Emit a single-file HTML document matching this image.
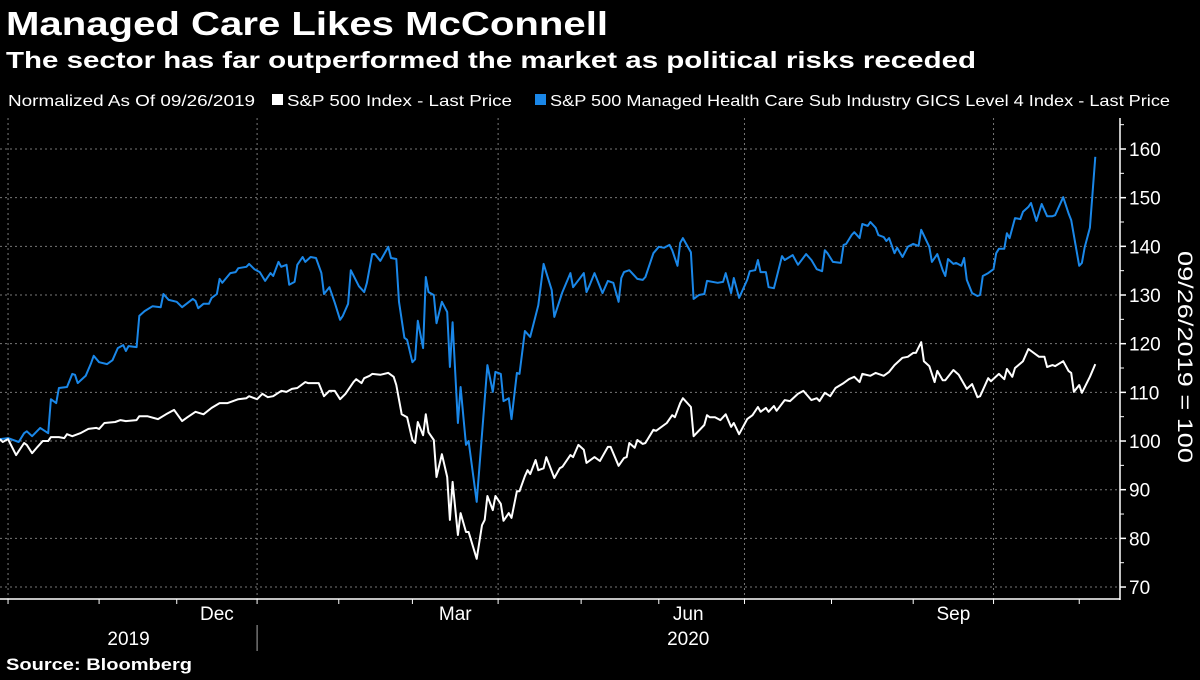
<!DOCTYPE html>
<html><head><meta charset="utf-8"><style>
body{margin:0;background:#000;width:1200px;height:675px;overflow:hidden;font-family:"Liberation Sans",sans-serif;color:#fff}
</style></head><body>
<svg width="1200" height="675" xmlns="http://www.w3.org/2000/svg" id="svg">
<text x="6" y="35" font-size="33" font-weight="bold" fill="#fff" textLength="602" lengthAdjust="spacingAndGlyphs">Managed Care Likes McConnell</text>
<text x="6" y="68" font-size="23" font-weight="bold" fill="#fff" textLength="970" lengthAdjust="spacingAndGlyphs">The sector has far outperformed the market as political risks receded</text>
<g font-size="16" fill="#fff">
<text x="8" y="106" textLength="247" lengthAdjust="spacingAndGlyphs">Normalized As Of 09/26/2019</text>
<rect x="272" y="94" width="11" height="11" fill="#fff"/>
<text x="287" y="106" textLength="225" lengthAdjust="spacingAndGlyphs">S&amp;P 500 Index - Last Price</text>
<rect x="535" y="94" width="11" height="11" fill="#1a87e8"/>
<text x="550" y="106" textLength="620" lengthAdjust="spacingAndGlyphs">S&amp;P 500 Managed Health Care Sub Industry GICS Level 4 Index - Last Price</text>
</g>
<g id="grid"></g>
<g id="axes"></g>
<g id="series"></g>
<text transform="translate(1178,357) rotate(90)" text-anchor="middle" font-size="21" fill="#fff" textLength="212" lengthAdjust="spacingAndGlyphs">09/26/2019 = 100</text>
<text x="6" y="670" font-size="17" font-weight="bold" fill="#fff" textLength="186" lengthAdjust="spacingAndGlyphs">Source: Bloomberg</text>
</svg>
<script>
const yTicks=[70,80,90,100,110,120,130,140,150,160];
const monthTickDays=[3,37,66,96,126.5,154,186,217,246,278,310.5,341,371,403];
const gridDays=[3,96,186,278,371];
const monthLabels=["Dec","Mar","Jun","Sep"];
const monthLabelDays=[81,170,257,356];
const yearLabels=["2019","2020"];
const yearLabelDays=[48,257];
const spDays=[0,1,3,6,9,10,12,14,16,18,19,22,24,25,27,30,33,36,37,39,43,45,47,51,52,55,59,62,65,68,70,73,76,79,82,85,89,92,93,96,98,100,102,105,107,109,111,114,115,119,121,123,125,127,129,132,133,135,136,138,139,142,145,147,148,150,152,154,155,156,158,159,160,162,163,165,167,168,169,171,172,174,175,178,180,181,182,184,185,187,188,190,191,193,194,196,197,198,200,201,203,204,207,209,210,213,214,216,218,219,222,224,227,228,231,233,234,235,237,238,240,241,244,245,249,251,252,254,255,258,259,263,264,265,267,269,271,273,274,276,279,281,283,284,286,287,289,290,293,295,298,300,303,305,306,308,310,312,315,317,319,321,322,325,327,330,332,334,337,339,341,342,344,345,347,349,350,352,353,356,358,361,363,365,366,369,370,373,375,376,378,379,382,384,388,390,391,393,394,397,399,400,401,403,404,407,409];
const spValues=[100.4,99.8,100.4,97.1,99.6,99.2,97.5,98.8,100,100,100.8,100.8,100.6,101.4,101,101.6,102.5,102.7,102.5,103.7,103.9,104.3,104.1,104.3,105.1,105.1,104.5,105.5,106.4,104.1,104.9,106,105.5,106.8,107.8,107.8,108.6,108.8,109.2,108.6,109.7,109,109.2,110.3,110.1,110.7,110.9,112.1,111.9,111.9,109.2,110.3,110.3,108.6,109.7,112.1,112.7,111.9,112.9,113.4,113.8,113.6,114,113.2,111.5,105.5,104.9,100.2,99.6,103.9,101.2,105.5,101.8,100.2,92.6,97.3,92.6,83.8,91.6,80.7,85.2,81.3,81.3,75.8,82.7,83.8,88.7,85.8,88.7,87.1,83.6,85.2,84.2,89.7,89.7,92.8,94,93.2,96.1,94,94.4,96.7,92.4,94.4,94.7,97.1,96.7,99.2,98.2,95.5,96.7,95.9,98.8,98.8,94.9,96.5,96.7,99.6,98.6,100.2,99.4,99.6,102.3,102.1,103.7,105.3,104.9,107.8,108.8,107,101,103.3,105.3,104.9,104.9,104.3,105.5,102.9,103.7,101.4,104.5,105.3,107,106,106.8,106,107.2,106.2,108.4,108.2,109.7,110.3,108.4,108.8,108.2,109.9,109.2,110.9,111.9,112.7,113.2,112.1,113.8,113.4,114,113.4,114.2,115.6,117.1,117.3,118.1,118.1,120.3,116.4,115.4,112.1,114.4,112.5,112.5,114.6,113.6,110.7,111.7,109,109.2,112.9,112.3,113.8,112.7,114.8,113.2,115,116.4,118.9,117.3,117.3,115.2,115.6,115.4,116.4,114.4,114,110.1,111.5,109.9,113.2,115.8];
const mcDays=[0,3,7,9,10,12,15,18,19,21,22,25,27,28,29,32,34,35,37,40,42,44,46,47,48,51,52,54,57,60,61,63,66,68,72,73,74,76,78,79,81,82,83,86,88,89,92,93,95,97,99,101,102,104,105,107,108,110,111,113,114,116,118,120,121,123,125,127,128,130,131,134,136,137,139,140,142,145,146,148,149,151,152,154,155,156,158,159,160,162,163,165,167,168,169,171,172,174,175,178,182,184,185,187,188,190,191,193,194,196,198,201,203,206,207,210,213,214,218,219,220,222,225,227,229,231,232,233,235,238,240,241,244,246,248,250,251,253,254,255,258,259,261,263,264,268,270,271,273,274,276,279,280,282,283,284,286,287,289,292,293,296,298,301,303,305,307,308,309,311,314,315,316,318,319,321,322,324,325,327,328,330,331,332,334,335,337,339,341,343,344,347,348,350,352,353,354,356,357,359,360,361,363,365,366,367,369,371,372,373,375,376,377,379,381,382,384,385,387,389,391,393,394,397,399,400,403,404,405,407,409];
const mcValues=[100.4,100.6,99.8,101.6,102,101,102.7,101.6,108.6,107.8,110.9,111.1,113.8,113.6,111.9,113.4,116,117.5,116.2,115.8,116.6,119.1,119.7,118.5,119.5,119.3,125.7,126.7,127.7,127.5,130.2,129,128.6,127.5,129.2,128.8,127.3,128.2,128.2,129.4,130.2,133.3,132.5,134.5,134.7,135.5,135.8,136.4,135.3,134.7,132.9,134.5,133.9,136.8,135.8,136.2,132.1,132.7,136.2,137.8,136.8,137.8,137.6,134.5,130.2,131.6,128.4,124.9,125.7,128.2,135.1,131.8,130.6,132.5,138.4,138.4,137,139.9,137.6,137.4,128.6,121.2,120.8,116.2,116.8,124.7,119.1,133.7,130.6,130,124.2,128.6,126.5,115.2,124.4,103.7,111.1,99.2,100,87.5,115.6,110.1,114.2,113.8,108.2,108.8,104.5,114,113.8,122.6,121.4,127.9,136.4,131,125.5,130.6,134.5,131.6,134.5,130.6,131.8,134.5,130.4,132.9,132.5,128.6,133.5,134.7,135.1,133.3,133.1,133.7,138.6,139.9,139.7,140.3,139.2,136,140.7,141.7,138.8,129.2,130,130.2,132.9,132.5,132.7,134.5,130.4,133.5,129.4,133.1,134.9,135.1,137.2,134.7,134.7,131.6,131.4,138,137.2,138.2,136.2,138.4,137.2,135.3,134.9,139.2,138.6,136.8,136.6,140.3,140.5,142.3,142.9,141.7,144.6,144.2,145,143.8,142.3,141.9,141.1,141.7,138.6,139.7,137.8,139.9,140.5,140.1,143.4,139.9,136.8,138.4,135.1,133.9,137.4,136.4,136.6,136,137.6,133.1,130.4,129.8,130,133.9,134.5,135.3,138.6,139.5,139.5,142.7,141.7,145.8,145.6,147.1,148.1,148.9,145.2,148.7,146.2,146.2,146.4,150.1,146.8,145.4,136,136.6,139.7,143.8,158.4];

const NS="http://www.w3.org/2000/svg";
const PL=0,PR=1120,PT=118,PB=599;
function xS(d){return d*2.678;}
function yS(v){return 149+(160-v)*4.867;}
function mk(tag,attrs,parent){const e=document.createElementNS(NS,tag);for(const k in attrs)e.setAttribute(k,attrs[k]);parent.appendChild(e);return e;}
const grid=document.getElementById('grid'),axes=document.getElementById('axes'),series=document.getElementById('series');
yTicks.forEach(v=>{
  const l=mk('line',{x1:PL,x2:PR,y1:yS(v),y2:yS(v),stroke:'#777','stroke-width':1,'stroke-dasharray':'2,3'},grid);
  
  
  const t=mk('line',{x1:PR,x2:PR+6,y1:yS(v),y2:yS(v),stroke:'#fff','stroke-width':1.5},axes);
  
  
  const m=mk('line',{x1:PR,x2:PR+4,y1:yS(v+5),y2:yS(v+5),stroke:'#fff','stroke-width':1},axes);
  
  
  const tx=mk('text',{x:PR+9,y:yS(v)+7,'font-size':19,fill:'#fff'},axes);
  tx.textContent=v;
  
  
});
gridDays.forEach(d=>{
  const l=mk('line',{x1:xS(d),x2:xS(d),y1:PT,y2:PB,stroke:'#777','stroke-width':1,'stroke-dasharray':'2,3'},grid);
  
  
});
const ya=mk('line',{x1:PR,x2:PR,y1:PT,y2:PB+1,stroke:'#fff','stroke-width':1.5},axes);


const xa=mk('line',{x1:0,x2:PR,y1:PB,y2:PB,stroke:'#fff','stroke-width':1.5},axes);


monthTickDays.forEach(d=>{
  const t=mk('line',{x1:xS(d),x2:xS(d),y1:PB,y2:PB+5,stroke:'#fff','stroke-width':1},axes);
  
  
});
monthLabels.forEach((s,i)=>{
  const t=mk('text',{x:xS(monthLabelDays[i]),y:620,'text-anchor':'middle','font-size':19,fill:'#fff'},axes);
  t.textContent=s;
  
  
});
yearLabels.forEach((s,i)=>{
  const t=mk('text',{x:xS(yearLabelDays[i]),y:645,'text-anchor':'middle','font-size':19,fill:'#fff'},axes);
  t.textContent=s;
  
  
});
const sep=mk('line',{x1:xS(96),x2:xS(96),y1:625,y2:651,stroke:'#aaa','stroke-width':1},axes);


function path(days,vals){return days.map((d,i)=>(i?'L':'M')+xS(d).toFixed(1)+','+yS(vals[i]).toFixed(1)).join('');}
const p1=mk('path',{d:path(mcDays,mcValues),fill:'none',stroke:'#1a87e8','stroke-width':2,'stroke-linejoin':'round'},series);


const p2=mk('path',{d:path(spDays,spValues),fill:'none',stroke:'#fff','stroke-width':2,'stroke-linejoin':'round'},series);


</script>
</body></html>
